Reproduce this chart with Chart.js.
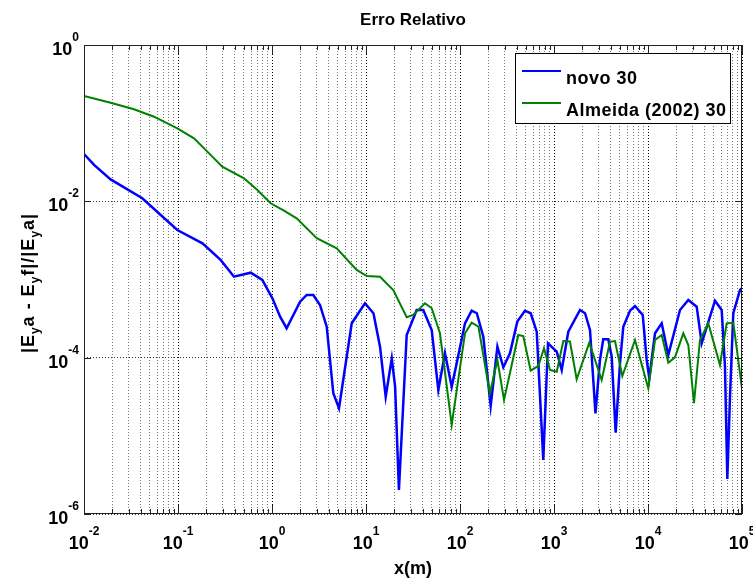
<!DOCTYPE html>
<html>
<head>
<meta charset="utf-8">
<title>Erro Relativo</title>
<script src="https://cdn.jsdelivr.net/npm/chart.js@4.4.1/dist/chart.umd.min.js"></script>
<style>
  html, body { margin: 0; padding: 0; background: #fff; }
  #plot { display: block; }
</style>
</head>
<body>
<canvas id="plot" width="753" height="578"></canvas>
<script>
// relative error |Ey_a - Ey_f| / |Ey_a| against distance x (m), log-log

const novoX = [0.01, 0.0128, 0.0192, 0.0417, 0.0655, 0.0984, 0.182, 0.284, 0.394, 0.593,
  0.789, 1.01, 1.22, 1.43, 1.99, 2.34, 2.75, 3.24, 3.82, 4.49,
  5.16, 7.05, 9.75, 12.0, 14.1, 16.2, 18.8, 20.4, 22.4, 27.1,
  34.6, 40.7, 50.0, 58.8, 69.2, 81.6, 92.2, 113, 133, 151,
  177, 212, 250, 289, 340, 407, 491, 565, 655, 769,
  863, 1069, 1208, 1419, 1891, 2138, 2415, 2762, 3083, 3342,
  3781, 4111, 4529, 5035, 5460, 6434, 7272, 8786, 9686, 10330,
  11870, 13990, 16440, 21890, 26840, 32970, 37240, 51600, 60800, 65900,
  69800, 74500, 80800, 95300, 100000];
const novoY = [0.0403, 0.0292, 0.0191, 0.01094, 0.00669, 0.0043, 0.0029, 0.00178, 0.001086, 0.001222,
  0.000986, 0.000575, 0.000334, 0.000238, 0.00052, 0.000634, 0.000634, 0.000472, 0.000249, 3.5e-5,
  2.25e-5, 0.000275, 0.000496, 0.00037, 0.000138, 3.17e-5, 9.8e-5, 4.25e-5, 2.03e-6, 0.000195,
  0.000407, 0.000407, 0.000226, 3.86e-5, 0.0001138, 4.25e-5, 8.47e-5, 0.000275, 0.000399, 0.00037,
  0.000185, 2.41e-5, 0.000138, 7.53e-5, 0.0001138, 0.000289, 0.000399, 0.00037, 0.000215, 4.91e-6,
  0.000153, 0.0001193, 6.95e-5, 0.000215, 0.000407, 0.00037, 0.000226, 1.94e-5, 9.34e-5, 0.0001718,
  0.0001718, 0.000103, 1.1e-5, 8.47e-5, 0.000249, 0.000399, 0.000458, 0.000352, 9.34e-5, 5.45e-5,
  0.000205, 0.000275, 0.0001082, 0.000407, 0.000547, 0.000449, 0.000153, 0.000536, 0.000407, 7.67e-5,
  2.81e-6, 3.17e-5, 0.00037, 0.000734, 0.000778];

const almeidaX = [0.01, 0.0192, 0.034, 0.0556, 0.0984, 0.148, 0.205, 0.296, 0.504, 0.698,
  0.968, 1.34, 1.83, 2.99, 4.88, 7.96, 10.2, 14.1, 19.5, 27.1,
  31.8, 42.4, 50.0, 61.2, 81.6, 113, 133, 157, 208, 250,
  294, 417, 471, 565, 681, 783, 906, 1069, 1256, 1479,
  1742, 2374, 3214, 3942, 4456, 5333, 7272, 10070, 11870, 13990,
  16440, 19360, 23750, 26840, 30840, 35700, 43800, 58300, 68700, 80800,
  100000];
const almeidaY = [0.2227, 0.1827, 0.1504, 0.121, 0.086, 0.064, 0.0432, 0.0277, 0.0197, 0.01396,
  0.00944, 0.00759, 0.00607, 0.00337, 0.00251, 0.001324, 0.001109, 0.001086, 0.000734, 0.000329,
  0.000352, 0.000496, 0.000428, 0.000205, 1.38e-5, 0.000205, 0.00028, 0.000249, 3.5e-5, 9.34e-5,
  2.88e-5, 0.000195, 0.000189, 6.81e-5, 7.83e-5, 0.0001318, 6.95e-5, 6.62e-5, 0.0001634, 0.000161,
  5.29e-5, 0.0001555, 5.18e-5, 0.00016, 0.000163, 5.83e-5, 0.0001683, 4.06e-5, 0.0001683, 0.000195,
  8.63e-5, 0.0001011, 0.000205, 0.0001453, 2.61e-5, 0.0001683, 0.000275, 8.06e-5, 0.000275, 0.00028,
  4.06e-5];

const seriesNames = ['novo 30', 'Almeida (2002) 30'];
const xDecades = [-2, -1, 0, 1, 2, 3, 4, 5];
const yDecades = [0, -2, -4, -6];
const minorSteps = [2, 3, 4, 5, 6, 7, 8, 9];

const FONT = "'Liberation Sans', Arial, Helvetica, sans-serif";

// every x tick: decades plus 2..9 in between
const xTicks = [];
xDecades.forEach((d, i) => {
    xTicks.push(Math.pow(10, d));
    if (i < xDecades.length - 1) minorSteps.forEach(m => xTicks.push(m * Math.pow(10, d)));
});
const yTicks = yDecades.map(d => Math.pow(10, d));

const isDecade = v => Math.abs(Math.log10(v) - Math.round(Math.log10(v))) < 1e-9;

const toPoints = (xs, ys) => xs.map((x, i) => ({ x: x, y: ys[i] }));

// ─── axes box, inner ticks, power-of-ten labels, titles, legend ─────────────
const matlabAxes = {
    id: 'matlabAxes',
    afterDraw(chart) {
        const { ctx, chartArea: a, scales } = chart;
        const sx = scales.x, sy = scales.y;
        ctx.save();
        ctx.letterSpacing = '0px';

        ctx.strokeStyle = '#222';
        ctx.lineWidth = 1;
        ctx.beginPath();
        xTicks.forEach(v => {
            const px = Math.round(sx.getPixelForValue(v)) + 0.5;
            const len = isDecade(v) ? 9 : 5;
            ctx.moveTo(px, a.bottom); ctx.lineTo(px, a.bottom - len);
            ctx.moveTo(px, a.top); ctx.lineTo(px, a.top + len);
        });
        yTicks.forEach(v => {
            const py = Math.round(sy.getPixelForValue(v)) + 0.5;
            ctx.moveTo(a.left, py); ctx.lineTo(a.left + 7, py);
            ctx.moveTo(a.right, py); ctx.lineTo(a.right - 7, py);
        });
        ctx.stroke();
        ctx.strokeRect(a.left + 0.5, a.top + 0.5, a.right - a.left - 1, a.bottom - a.top - 1);

        ctx.fillStyle = '#000';
        ctx.textBaseline = 'alphabetic';
        ctx.textAlign = 'left';
        const bigFont = 'bold 18px ' + FONT;
        const expFont = 'bold 12px ' + FONT;
        const powWidth = exp => {
            ctx.font = bigFont; const w1 = ctx.measureText('10').width;
            ctx.font = expFont; const w2 = ctx.measureText(String(exp)).width;
            return [w1, w2];
        };
        const drawPow = (exp, left, base) => {
            const [w1] = powWidth(exp);
            ctx.font = bigFont; ctx.fillText('10', left, base);
            ctx.font = expFont; ctx.fillText(String(exp), left + w1, base - 14);
        };

        xDecades.forEach(d => {
            const px = sx.getPixelForValue(Math.pow(10, d));
            const [w1, w2] = powWidth(d);
            drawPow(d, px - (w1 + w2) / 2, a.bottom + 35);
        });
        yDecades.forEach(d => {
            const py = sy.getPixelForValue(Math.pow(10, d));
            const [w1, w2] = powWidth(d);
            drawPow(d, a.left - 5 - (w1 + w2), py + 10);
        });

        // title and x label
        ctx.textAlign = 'center';
        ctx.font = 'bold 17px ' + FONT;
        ctx.fillText('Erro Relativo', (a.left + a.right) / 2, 25);
        ctx.font = 'bold 18px ' + FONT;
        ctx.fillText('x(m)', (a.left + a.right) / 2, 574);

        // rotated y label with subscripts
        const parts = [['|E', 0], ['y', 1], ['a - E', 0], ['y', 1], ['f|/|E', 0], ['y', 1], ['a|', 0]];
        const fontOf = sub => (sub ? 'bold 12px ' : 'bold 18px ') + FONT;
        ctx.letterSpacing = '1px';
        let total = 0;
        parts.forEach(([t, sub]) => { ctx.font = fontOf(sub); total += ctx.measureText(t).width; });
        ctx.save();
        ctx.translate(34, 283);
        ctx.rotate(-Math.PI / 2);
        ctx.textAlign = 'left';
        let u = -total / 2;
        parts.forEach(([t, sub]) => {
            ctx.font = fontOf(sub);
            ctx.fillText(t, u, sub ? 5 : 0);
            u += ctx.measureText(t).width;
        });
        ctx.restore();

        // legend
        ctx.letterSpacing = '0.5px';
        ctx.fillStyle = '#fff';
        ctx.fillRect(515, 53, 215, 71);
        ctx.strokeStyle = '#000';
        ctx.lineWidth = 1;
        ctx.strokeRect(515.5, 53.5, 215, 70);
        const rows = [71, 103];
        chart.data.datasets.forEach((ds, i) => {
            ctx.strokeStyle = ds.borderColor;
            ctx.lineWidth = 2;
            ctx.beginPath();
            ctx.moveTo(522, rows[i]); ctx.lineTo(561, rows[i]);
            ctx.stroke();
            ctx.fillStyle = '#000';
            ctx.font = 'bold 18px ' + FONT;
            ctx.textAlign = 'left';
            ctx.fillText(ds.label, 566, rows[i] + 13);
        });
        ctx.letterSpacing = '0px';

        ctx.restore();
    }
};

new Chart(document.getElementById('plot').getContext('2d'), {
    type: 'line',
    data: {
        datasets: [{
            label: seriesNames[0],
            data: toPoints(novoX, novoY),
            borderColor: '#0000ff',
            borderWidth: 2.5,
            order: 1
        }, {
            label: seriesNames[1],
            data: toPoints(almeidaX, almeidaY),
            borderColor: '#008000',
            borderWidth: 2,
            order: 0
        }]
    },
    options: {
        responsive: false,
        animation: false,
        events: [],
        layout: { padding: { left: 84, top: 45, right: 11, bottom: 64 } },
        elements: {
            line: { tension: 0, fill: false },
            point: { radius: 0 }
        },
        plugins: {
            legend: { display: false },
            tooltip: { enabled: false },
            title: { display: false }
        },
        scales: {
            x: {
                type: 'logarithmic',
                min: 0.01,
                max: 100000,
                afterBuildTicks: scale => { scale.ticks = xTicks.map(v => ({ value: v })); },
                ticks: { display: false },
                grid: {
                    drawTicks: false,
                    tickLength: 0,
                    color: c => (c.tick && isDecade(c.tick.value)) ? '#000' : '#7a7a7a',
                    lineWidth: 1
                },
                border: { display: false, dash: [1, 2] }
            },
            y: {
                type: 'logarithmic',
                min: 1e-6,
                max: 1,
                afterBuildTicks: scale => { scale.ticks = yTicks.map(v => ({ value: v })); },
                ticks: { display: false },
                grid: {
                    drawTicks: false,
                    tickLength: 0,
                    color: '#333',
                    lineWidth: 1
                },
                border: { display: false, dash: [1, 2] }
            }
        }
    },
    plugins: [matlabAxes]
});
</script>
</body>
</html>
